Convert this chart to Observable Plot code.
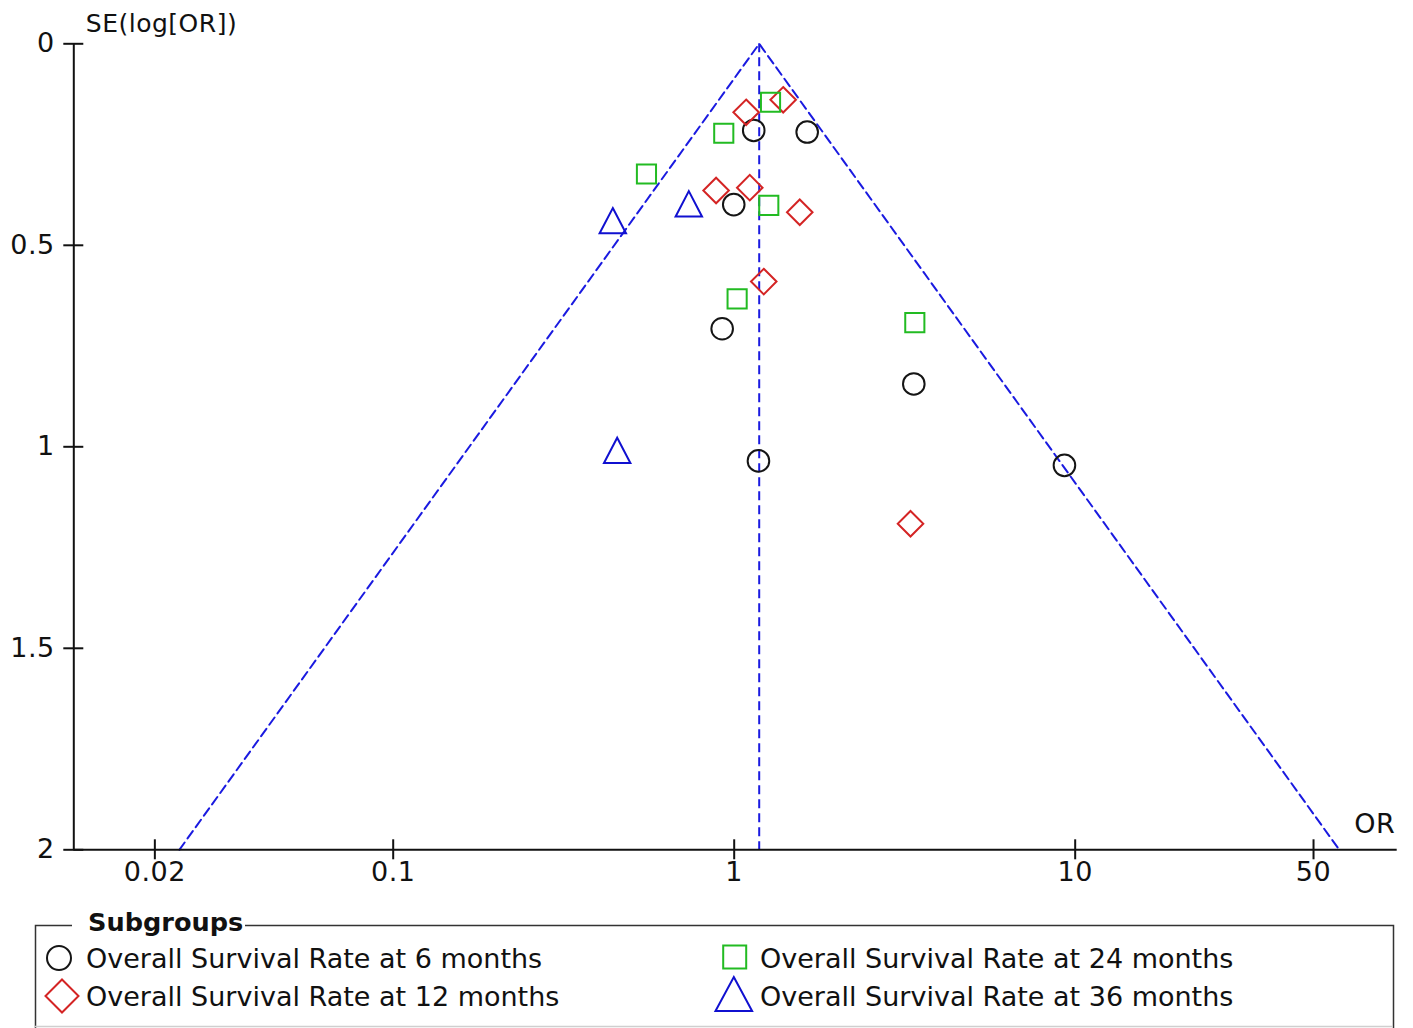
<!DOCTYPE html>
<html><head><meta charset="utf-8">
<script src="https://cdn.jsdelivr.net/npm/d3@7"></script>
<script src="https://cdn.jsdelivr.net/npm/@observablehq/plot@0.6"></script>
<style>
html,body{margin:0;padding:0;background:#fff;}
#chart svg,#legend svg{display:block}
#chart text{letter-spacing:0.5px}
</style></head>
<body><div id="chart"></div><div id="legend"></div>
<script>
// ---- data ----
const groups = ["Overall Survival Rate at 6 months", "Overall Survival Rate at 12 months",
                "Overall Survival Rate at 24 months", "Overall Survival Rate at 36 months"];
const or6  = [1.141, 1.637, 0.997, 0.922, 3.363, 1.178, 9.30];
const se6  = [0.215, 0.219, 0.399, 0.707, 0.844, 1.035, 1.046];
const or12 = [1.084, 1.392, 0.885, 1.111, 1.557, 1.221, 3.289];
const se12 = [0.170, 0.139, 0.364, 0.357, 0.418, 0.590, 1.191];
const or24 = [1.278, 0.932, 0.553, 1.263, 1.020, 3.386];
const se24 = [0.145, 0.222, 0.323, 0.401, 0.633, 0.692];
const or36 = [0.4406, 0.7361, 0.4538];
const se36 = [0.439, 0.397, 1.009];
const pooledOR = 1.184;
const funnelOR = [0.0236, 1.184, 59.5];
const funnelSE = [2, 0, 2];
const xTicks = [0.02, 0.1, 1, 10, 50];
const xTickLabels = ["0.02", "0.1", "1", "10", "50"];
const yTicks = [0, 0.5, 1, 1.5, 2];
const yTickLabels = ["0", "0.5", "1", "1.5", "2"];
const xDomain = [0.01157, 87.97];
const yDomain = [0, 2];
const yLabel = "SE(log[OR])";
const xLabel = "OR";
const legendTitle = "Subgroups";

// ---- build tables ----
const zip = (xs, ys) => xs.map((x, i) => ({or: x, se: ys[i]}));
const d6 = zip(or6, se6), d12 = zip(or12, se12), d24 = zip(or24, se24), d36 = zip(or36, se36);
const funnel = zip(funnelOR, funnelSE);
const xTickTable = xTicks.map((t, i) => ({v: t, label: xTickLabels[i]}));

const colors = {c6: "#151515", c12: "#d42424", c24: "#22bb22", c36: "#1010d0"};
const dashBlue = "#1a1ae0";

const triangleSym = {
  draw(ctx, size) {
    const r = Math.sqrt(size / Math.PI);
    ctx.moveTo(0, -1.15 * r);
    ctx.lineTo(1.2 * r, 1.15 * r);
    ctx.lineTo(-1.2 * r, 1.15 * r);
    ctx.closePath();
  }
};

const W = 1413, H = 900;
const fmt = (ticks, labels) => d => {
  const i = ticks.findIndex(t => Math.abs(t - d) <= 1e-6 * Math.max(1, Math.abs(t)));
  return i >= 0 ? labels[i] : String(+(+d).toPrecision(6));
};

const chart = Plot.plot({
  width: W, height: H,
  marginLeft: 73.3, marginRight: 16.3, marginTop: 43.3, marginBottom: H - 849.3,
  style: {fontFamily: "'DejaVu Sans', sans-serif", fontSize: "27px", background: "white", color: "#111", overflow: "visible"},
  x: {type: "log", domain: xDomain, label: null},
  y: {domain: yDomain, reverse: true, label: null},
  marks: [
    Plot.line(funnel, {x: "or", y: "se", stroke: dashBlue, strokeWidth: 2, strokeDasharray: "9,5"}),
    Plot.ruleX([pooledOR], {stroke: dashBlue, strokeWidth: 2, strokeDasharray: "9,5"}),
    Plot.ruleY([yDomain[1]], {stroke: "#111", strokeWidth: 2}),
    Plot.ruleX([xDomain[0]], {stroke: "#111", strokeWidth: 2}),
    Plot.axisX({ticks: xTicks, tickSize: 20, dy: -10, stroke: "#111", fill: "none", strokeWidth: 2, label: null}),
    Plot.text(xTickTable, {x: "v", text: "label", frameAnchor: "bottom", dy: 12, lineAnchor: "top", textAnchor: "middle", fill: "#111"}),
    Plot.axisY({ticks: yTicks, tickFormat: fmt(yTicks, yTickLabels), tickSize: 20, dx: 10, tickPadding: 9, strokeWidth: 2, label: null}),
    Plot.dot(d6,  {x: "or", y: "se", symbol: "circle",   r: 10.8, stroke: colors.c6,  strokeWidth: 2, fill: "none"}),
    Plot.dot(d12, {x: "or", y: "se", symbol: "diamond2", r: 11.5, stroke: colors.c12, strokeWidth: 2, fill: "none"}),
    Plot.dot(d24, {x: "or", y: "se", symbol: "square",   r: 10.8, stroke: colors.c24, strokeWidth: 2, fill: "none"}),
    Plot.dot(d36, {x: "or", y: "se", symbol: triangleSym, r: 11, stroke: colors.c36, strokeWidth: 2, fill: "none"}),
    Plot.text([yLabel], {frameAnchor: "top-left", dx: 12, dy: -20, textAnchor: "start", lineAnchor: "middle", fill: "#111", fontSize: 25}),
    Plot.text([xLabel], {frameAnchor: "bottom-right", dx: -2, dy: -25, textAnchor: "end", lineAnchor: "middle", fill: "#111"})
  ]
});
document.getElementById("chart").appendChild(chart);

// ---- legend ----
const LH = 128;
const L = d3.select("#legend").append("svg").attr("width", W).attr("height", LH)
  .style("font-family", "'DejaVu Sans', sans-serif");
L.append("path").attr("d", "M72,25.5H35.5V" + LH).attr("fill", "none").attr("stroke", "#333").attr("stroke-width", 1.5);
L.append("path").attr("d", "M245,25.5H1393.5V" + LH).attr("fill", "none").attr("stroke", "#333").attr("stroke-width", 1.5);
L.append("line").attr("x1", 35).attr("x2", 1393).attr("y1", 126.5).attr("y2", 126.5).attr("stroke", "#cfcfcf").attr("stroke-width", 1.5);
L.append("text").attr("x", 88).attr("y", 31).attr("font-weight", "bold").attr("font-size", "25.6px").attr("fill", "#111").text(legendTitle);

const items = [
  {label: groups[0], x: 59, y: 58, tx: 86, ty: 68, color: colors.c6, path: d3.symbol(d3.symbolCircle, Math.PI * 12 * 12)()},
  {label: groups[1], x: 62, y: 96, tx: 86, ty: 106, color: colors.c12, path: "M0,-16.5L16.5,0L0,16.5L-16.5,0Z"},
  {label: groups[2], x: 734.7, y: 57, tx: 760, ty: 68, color: colors.c24, path: "M-11.5,-11.5H11.5V11.5H-11.5Z"},
  {label: groups[3], x: 733.8, y: 94, tx: 760, ty: 106, color: colors.c36, path: "M0,-17L18.3,17H-18.3Z"}
];
for (const it of items) {
  L.append("path").attr("d", it.path).attr("transform", `translate(${it.x},${it.y})`)
    .attr("fill", "none").attr("stroke", it.color).attr("stroke-width", 2);
  L.append("text").attr("x", it.tx).attr("y", it.ty).attr("font-size", "27px").attr("fill", "#111").text(it.label);
}
</script>
</body></html>
